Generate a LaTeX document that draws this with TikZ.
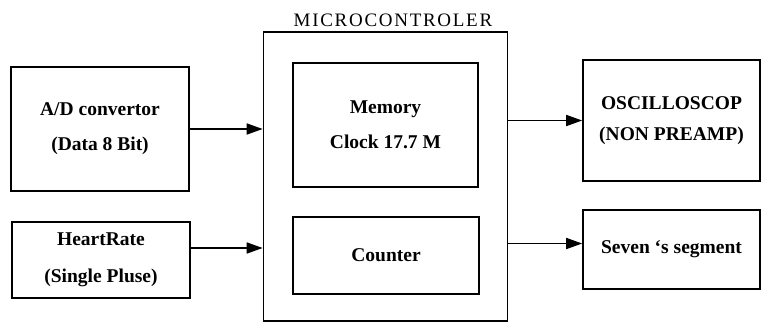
\documentclass[tikz,border=0pt]{standalone}
\usepackage{fontspec}
\setmainfont{Liberation Serif}
\usetikzlibrary{arrows.meta}

\begin{document}
\begin{tikzpicture}[x=1pt, y=-1pt, line width=1.6pt,
    blk/.style={draw, align=center, inner sep=0pt,
      font=\fontsize{19.5}{35}\selectfont\bfseries},
    arr/.style={-{Triangle[length=16pt, width=11pt]}}]
  \useasboundingbox (0,0) rectangle (761,324);

  % Microcontroller with its inner blocks
  \node[draw, minimum width=244pt, minimum height=289pt] (mcu) at (385.5,176.5) {};
  \node[font=\fontsize{19}{22}\selectfont\addfontfeatures{LetterSpace=9}] (title) at (393,20) {MICROCONTROLER};
  \node[blk, minimum width=185pt, minimum height=124pt] (mem) at (385.5,125) {Memory\\Clock 17.7 M};
  \node[blk, minimum width=186pt, minimum height=77pt] (cnt) at (386,255.5) {Counter};

  % Inputs
  \node[blk, minimum width=178pt, minimum height=124pt] (ad) at (100,129) {A/D convertor\\(Data 8 Bit)};
  \node[blk, minimum width=178pt, minimum height=76pt, font=\fontsize{19.5}{37}\selectfont\bfseries] (hr) at (101,260) {HeartRate\\(Single Pluse)};

  % Outputs
  \node[blk, minimum width=177pt, minimum height=121pt, font=\fontsize{19.5}{31}\selectfont\bfseries] (osc) at (671.5,120.5) {OSCILLOSCOP\\(NON PREAMP)};
  \node[blk, minimum width=177pt, minimum height=79pt] (seg) at (671.5,249.5) {Seven ‘s segment};

  % Connections
  \draw[arr] (ad.east) -- (ad.east -| mcu.west);
  \draw[arr] ([yshift=12pt]hr.east) -- ([yshift=12pt]hr.east -| mcu.west);
  \draw[arr] (osc.west -| mcu.east) -- (osc.west);
  \draw[arr] ([yshift=6pt]seg.west -| mcu.east) -- ([yshift=6pt]seg.west);
\end{tikzpicture}
\end{document}
